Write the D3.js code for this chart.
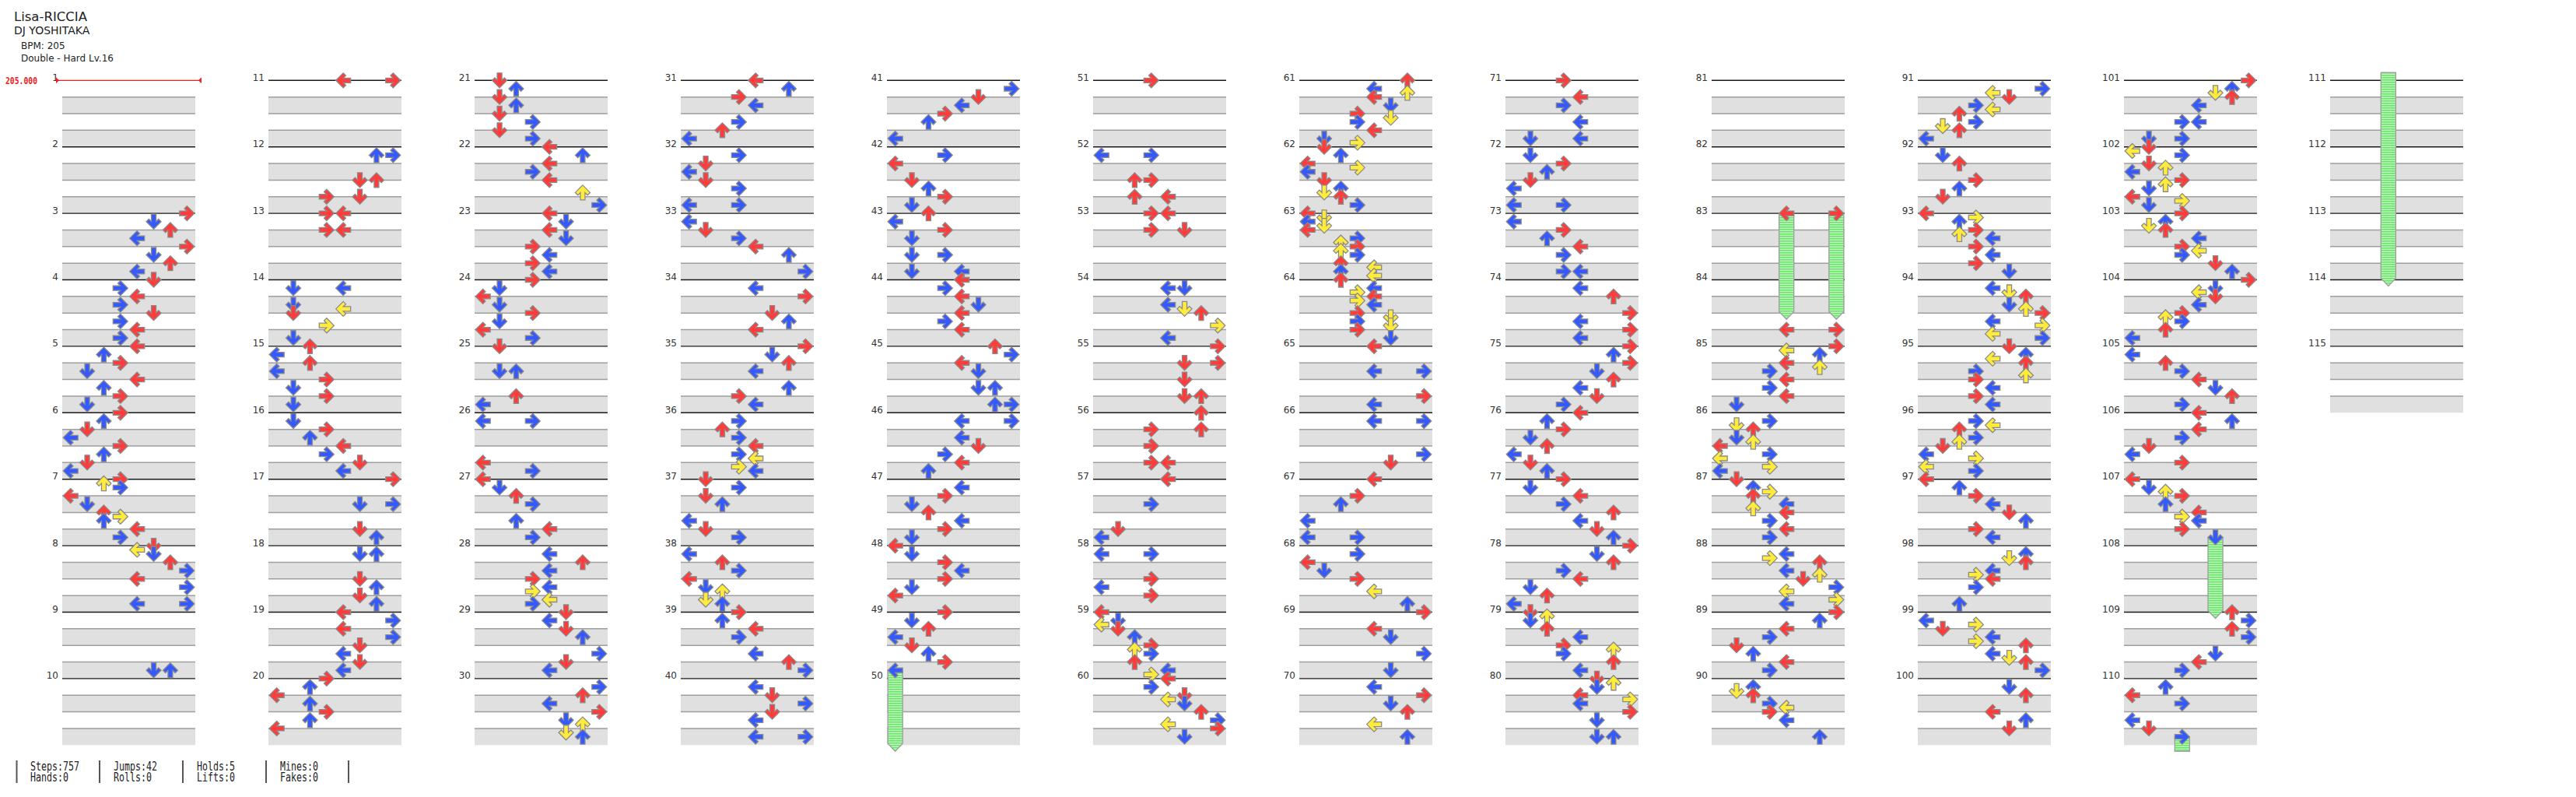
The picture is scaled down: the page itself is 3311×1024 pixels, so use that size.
<!DOCTYPE html>
<html><head><meta charset="utf-8">
<script src="https://cdn.jsdelivr.net/npm/d3@7/dist/d3.min.js"></script>
<style>body{margin:0;background:#fff;overflow:hidden}</style>
</head><body><svg id="c" width="3311" height="1024"></svg>
<script>
// ---- header texts ----
const titleLines = ["Lisa-RICCIA", "DJ YOSHITAKA", "BPM: 205", "Double - Hard  Lv.16"];
const bpmMarks = [{measure: 1, label: "205.000"}];
// ---- notes: each measure string = tokens "<row hex 0-f><lanes>" (16th rows, lanes 0-7 = L D U R L D U R) ----
const col01 = ["", "", "07 25 46 64 87 a5 c6 e4", "05 23 44 63 85 a3 c4 e3", "04 22 43 61 84 a2 c3 e1",
  "03 22 41 60 83 a2 c1 e0", "03 12 23 40 61 82 93 a2 c4 e3", "05 14 25 46 67 84 a7 e47", "e56", ""];
const col02 = ["047", "267 856 c35", "034 434", "214 61 74 81 b3 e1", "02 20 42 60 83 a1 c3 e1",
  "21 43 62 84 a3 c5 e4", "07 657 c5 e6", "256 85 a6 c5 e6", "04 27 44 67 85 a4 c5 e4", "03 22 40 62 83 a2 c0"];
const col03 = ["01 22 41 62 81 a3 c1 e3", "04 26 44 63 84 b6 e7", "04 25 44 65 83 a4 c3 e4", "03 21 40 61 83 a1 c0 e3",
  "01 612 c2 e0", "203 c0 e3", "00 21 42 63 a2 c4 e3", "24 46 64 83 a4 b3 d4 e3", "05 24 45 66 a7 c5 e4", "27 46 64 87 a5 b6 d5 e6"];
const col04 = ["04 26 43 64 a3 c2 e0", "23 41 60 81 a3 e03", "20 41 63 84 a6 e7", "24 47 85 a6 c4", "07 25 46 64 a6 c3 e4",
  "23 42 63 84 a3 b4 d3 e4", "01 23 41 62 a0 c1 e3", "20 42 63 80 a1 b2 d1 e2", "03 22 44 63 a4 c6 e7", "24 45 67 85 a4 e47"];
const col05 = ["27 45 64 83 a2 e0", "23 40 81 a2 c3 e1", "02 20 43 61 a13 e14", "04 23 44 65 84 a3 c4", "06 27 44 65 a56 e67",
  "247 64 85 a3 c4 e2", "24 43 61 82 a4 c3 e1", "00 21 43 64 83 a1 c0", "03 21 42 60 81 a2 c3 e0", ""];
const col06 = ["03", "203 823 c24", "034 435", "245 64 75 86 b7 e4", "07 457 85 c56",
  "06 436 83 c34", "04 63 c1 e0", "203 83 a0 c3", "00 21 30 41 62 83 92 a3 c2 e4 f3", "04 23 45 54 65 86 a7 b4 c7 e5"];
const col07 = ["06 24 36 44 65 83 95 a3 c4 e1 f3", "01 22 40 53 60 81 a2 b1 c2 e3", "00 11 20 31 40 63 72 83 92 a3 c2 d4 e2 f4",
  "02 24 33 44 53 64 83 95 a3 b5 c3 e5", "04 647 c7 e4", "247 a7 c5", "04 43 62 a0 e03", "23 40 61 83 b4 e6", "07 44 65 a7 e5", "24 47 65 86 b4 e6"];
const col08 = ["03 44 63 a4 e14", "21 43 62 81 a0 e03", "20 43 62 84 a3 e34", "24 46 87 a4 c7 e4", "07 26 47 65 86 a4 c5 e3",
  "04 22 43 61 82 a0 c1 e2", "03 21 44 63 86 a4 c5 e6", "07 25 46 63 84 a1 c2 e0", "01 12 21 42 64 83 96 a3 c6 e4", "05 16 25 44 57 64 87 a5 e56"];
const col09 = ["", "", "047", "c47", "07 14 26 44 56 63 84 a3 c4 e1",
  "23 31 42 61 72 80 a3 b0 d3 e0", "01 22 33 42 64 72 84 a3 c4 e3", "24 33 46 64 76 85 a7 b4 d7 e4", "07 26 44 63 81 a2 c4 e3", "22 31 42 63 74 83 a4 e6"];
const col10 = ["27 34 45 63 74 82 a3 b1 c2 e0", "21 42 83 a2 c1", "00 13 22 43 52 64 83 a4 c3 e5", "24 35 46 65 76 87 a4 b7 d4 e7",
  "05 26 34 46 63 76 83 a4 c3 e4", "23 34 42 63 72 81 a0 b3 d0 e3", "00 22 43 64 85 a6 c3 e4", "26 35 46 64 73 84 a3 e2",
  "20 33 41 64 73 86 a4 b5 c6 e7", "25 46 84 a6 c5"];
const col11 = ["07 26 35 46 64 a34 e13", "01 10 23 41 52 60 83 92 a1 c0 d3 e1", "03 22 31 42 64 83 94 a3 c5 e6",
  "07 25 34 45 64 83 92 a3 c2 e0", "20 42 63 84 a5 c6 e3", "04 26 44 63 81 a0 c3", "00 21 32 43 62 84 93 a4 c3 e5", "",
  "06 27 46 67 a5 c4 e3", "22 40 63 a0 c1 e3"];
const col12 = ["", "", "", "", ""];
// holds: [measure, row, lane, length in 16th rows]
const holds = [[49, 14, 0, 18], [83, 0, 4, 24], [83, 0, 7, 24], [107, 14, 5, 18], [110, 14, 3, 50]];
const statsTop = ["Steps:757", "Jumps:42", "Holds:5", "Mines:0"];
const statsBottom = ["Hands:0", "Rolls:0", "Lifts:0", "Fakes:0"];

// ---- layout ----
const columns = [col01, col02, col03, col04, col05, col06, col07, col08, col09, col10, col11, col12];
const H = 85.4, Y0 = 103.3, X0 = 80, COLW = 265, BW = 171;
const colX = d3.scaleLinear().domain([0, 1]).range([X0, X0 + COLW]);
const rowY = d3.scaleLinear().domain([0, 160]).range([Y0, Y0 + H * 10]);
const laneX = d3.scaleBand().domain(d3.range(8)).range([0, BW]);
const laneC = l => laneX(l) + laneX.bandwidth() / 2;
const svg = d3.select("#c");
const defs = svg.append("defs");
const pat = defs.append("pattern").attr("id", "holdPat").attr("patternUnits", "userSpaceOnUse").attr("width", 4).attr("height", 3);
pat.append("rect").attr("width", 4).attr("height", 3).attr("fill", "#c6f8c6");
pat.append("rect").attr("width", 4).attr("height", 1.6).attr("fill", "#66e866");

// title block
const tb = [[18, 27, 16.5], [18, 44, 14], [27, 63, 12], [27, 79, 12]];
titleLines.forEach((t, i) => svg.append("text").attr("x", tb[i][0]).attr("y", tb[i][1])
  .attr("font-family", "DejaVu Sans").attr("font-size", tb[i][2]).attr("fill", "#222").text(t));

// measures
const measures = [];
columns.forEach((arr, c) => arr.forEach((s, i) => measures.push({m: c * 10 + i + 1, c, i, s})));
const gBoard = svg.append("g");
measures.forEach(d => {
  const x = colX(d.c), y = rowY(d.i * 16), q = rowY(d.i * 16 + 4) - y;
  [1, 3].forEach(b => gBoard.append("rect").attr("x", x).attr("y", y + b * q).attr("width", BW).attr("height", q).attr("fill", "#e0e0e0"));
  [1, 2, 3].forEach(b => gBoard.append("line").attr("x1", x).attr("x2", x + BW).attr("y1", y + b * q).attr("y2", y + b * q)
    .attr("stroke", "#9e9e9e").attr("stroke-width", 1.5));
  const bpm = bpmMarks.find(b => b.measure === d.m);
  gBoard.append("text").attr("x", x - 5).attr("y", y + 0.5).attr("text-anchor", "end")
    .attr("font-family", "DejaVu Sans").attr("font-size", 12).attr("fill", "#333").text(d.m);
  if (bpm) {
    gBoard.append("line").attr("x1", x - 8).attr("x2", x + BW + 8).attr("y1", y).attr("y2", y).attr("stroke", "#ee2222").attr("stroke-width", 1.2);
    gBoard.append("path").attr("d", `M${x - 8},${y - 4}L${x - 8},${y + 4}L${x - 4},${y}Z`).attr("fill", "#ee2222");
    gBoard.append("path").attr("d", `M${x + BW + 8},${y - 4}L${x + BW + 8},${y + 4}L${x + BW + 4},${y}Z`).attr("fill", "#ee2222");
    gBoard.append("text").attr("x", 7).attr("y", y + 4.5).attr("font-family", "DejaVu Sans Mono").attr("font-weight", "bold")
      .attr("font-size", 12).attr("textLength", 41).attr("lengthAdjust", "spacingAndGlyphs").attr("fill", "#ee2222").text(bpm.label);
  } else {
    gBoard.append("line").attr("x1", x).attr("x2", x + BW).attr("y1", y).attr("y2", y).attr("stroke", "#1a1a1a").attr("stroke-width", 1.4);
  }
});

// notes
const notes = [];
measures.forEach(d => d.s.split(" ").filter(t => t.length > 1).forEach(t => {
  const row = parseInt(t[0], 16);
  t.slice(1).split("").forEach(l => notes.push({t: (d.m - 1) * 16 + row, row, lane: +l}));
}));
const colorOf = r => r % 4 === 0 ? "#ff3c3c" : (r % 2 === 0 ? "#3459ff" : "#ffeb3b");
const pos = t => { const c = Math.floor(t / 160); return {c, y: rowY(t - c * 160)}; };

// holds
const gHold = svg.append("g");
holds.forEach(([m, r, lane, len]) => {
  const t0 = (m - 1) * 16 + r, t1 = t0 + len;
  for (let c = 0; c < columns.length; c++) {
    const cs = c * 160, ce = cs + columns[c].length * 16;
    if (!(t0 < ce && t1 > cs)) continue;
    const cx = colX(c) + laneC(lane);
    const ya = t0 >= cs ? rowY(t0 - cs) : rowY(0) - 10;
    const tail = t1 <= ce;
    const yb = tail ? rowY(t1 - cs) : rowY(columns[c].length * 16) + 8;
    const w = 9.5;
    const d = tail ? `M${cx - w},${ya}L${cx + w},${ya}L${cx + w},${yb - 2}L${cx},${yb + 8}L${cx - w},${yb - 2}Z`
                   : `M${cx - w},${ya}L${cx + w},${ya}L${cx + w},${yb}L${cx - w},${yb}Z`;
    gHold.append("path").attr("d", d).attr("fill", "url(#holdPat)").attr("stroke", "#a0a0a0").attr("stroke-width", 1.4);
  }
});

// arrows
const arrowPath = "M0,-9.5L9.5,0L6.2,3.3L3,0.1L3,9.5L-3,9.5L-3,0.1L-6.2,3.3L-9.5,0Z";
const rot = [-90, 180, 0, 90];
svg.append("g").selectAll("path").data(notes.sort((a, b) => a.t - b.t)).join("path")
  .attr("d", arrowPath)
  .attr("transform", d => { const p = pos(d.t); return `translate(${colX(p.c) + laneC(d.lane)},${p.y}) rotate(${rot[d.lane % 4]})`; })
  .attr("fill", d => colorOf(d.row)).attr("stroke", "#8a8a8a").attr("stroke-width", 1.3).attr("stroke-linejoin", "miter");

// stats
const barX = [21.5, 128, 235, 342, 448];
barX.forEach(x => svg.append("line").attr("x1", x).attr("x2", x).attr("y1", 977).attr("y2", 1006).attr("stroke", "#555").attr("stroke-width", 2));
[statsTop, statsBottom].forEach((row, ri) => row.forEach((t, i) => svg.append("text")
  .attr("x", 39 + 107 * i).attr("y", 990 + ri * 14).attr("font-family", "DejaVu Sans Mono").attr("font-size", 15.5)
  .attr("textLength", t.length * 7).attr("lengthAdjust", "spacingAndGlyphs").attr("fill", "#222").text(t)));
</script></body></html>
